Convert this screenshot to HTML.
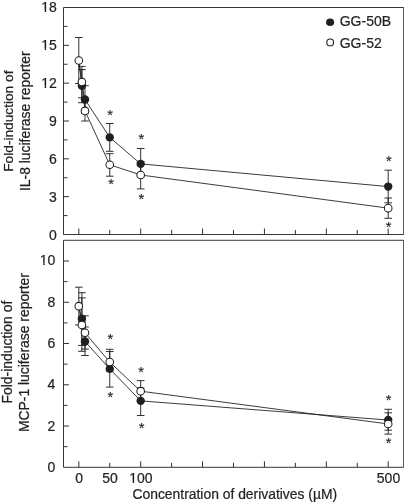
<!DOCTYPE html>
<html><head><meta charset="utf-8"><title>Chart</title>
<style>
html,body{margin:0;padding:0;background:#fff;overflow:hidden;}
svg{display:block;will-change:transform;position:absolute;left:0;top:0;font-family:"Liberation Sans",sans-serif;fill:#231f20;}
text{stroke:#231f20;stroke-width:0.22px;}
</style></head>
<body>
<svg width="404" height="503" viewBox="0 0 404 503">
<rect x="0" y="0" width="404" height="503" fill="#fff"/>
<path d="M63.5,7.5 H403.7 V234.5 H63.5 Z" fill="none" stroke="#231f20" stroke-width="0.9"/>
<path d="M63.5,240.3 H403.7 V467.3 H63.5 Z" fill="none" stroke="#231f20" stroke-width="0.9"/>
<line x1="63.50" y1="215.58" x2="67.50" y2="215.58" stroke="#231f20" stroke-width="0.92"/>
<line x1="63.50" y1="196.67" x2="69.00" y2="196.67" stroke="#231f20" stroke-width="0.92"/>
<line x1="63.50" y1="177.75" x2="67.50" y2="177.75" stroke="#231f20" stroke-width="0.92"/>
<line x1="63.50" y1="158.83" x2="69.00" y2="158.83" stroke="#231f20" stroke-width="0.92"/>
<line x1="63.50" y1="139.92" x2="67.50" y2="139.92" stroke="#231f20" stroke-width="0.92"/>
<line x1="63.50" y1="121.00" x2="69.00" y2="121.00" stroke="#231f20" stroke-width="0.92"/>
<line x1="63.50" y1="102.08" x2="67.50" y2="102.08" stroke="#231f20" stroke-width="0.92"/>
<line x1="63.50" y1="83.17" x2="69.00" y2="83.17" stroke="#231f20" stroke-width="0.92"/>
<line x1="63.50" y1="64.25" x2="67.50" y2="64.25" stroke="#231f20" stroke-width="0.92"/>
<line x1="63.50" y1="45.33" x2="69.00" y2="45.33" stroke="#231f20" stroke-width="0.92"/>
<line x1="63.50" y1="26.42" x2="67.50" y2="26.42" stroke="#231f20" stroke-width="0.92"/>
<text x="56.85" y="239.70" text-anchor="end" font-size="14" >0</text>
<text x="56.85" y="201.97" text-anchor="end" font-size="14" >3</text>
<text x="56.85" y="164.03" text-anchor="end" font-size="14" >6</text>
<text x="56.85" y="125.80" text-anchor="end" font-size="14" >9</text>
<text x="56.85" y="87.87" text-anchor="end" font-size="14" >12</text>
<rect x="41.14" y="85.67" width="3.52" height="3.85" fill="#fff"/>
<rect x="46.17" y="85.67" width="3.11" height="3.85" fill="#fff"/>
<text x="56.85" y="50.13" text-anchor="end" font-size="14" >15</text>
<rect x="41.14" y="47.94" width="3.52" height="3.85" fill="#fff"/>
<rect x="46.17" y="47.94" width="3.11" height="3.85" fill="#fff"/>
<text x="56.85" y="12.30" text-anchor="end" font-size="14" >18</text>
<rect x="41.14" y="10.10" width="3.52" height="3.85" fill="#fff"/>
<rect x="46.17" y="10.10" width="3.11" height="3.85" fill="#fff"/>
<line x1="63.50" y1="446.67" x2="67.50" y2="446.67" stroke="#231f20" stroke-width="0.92"/>
<line x1="63.50" y1="426.04" x2="69.00" y2="426.04" stroke="#231f20" stroke-width="0.92"/>
<line x1="63.50" y1="405.41" x2="67.50" y2="405.41" stroke="#231f20" stroke-width="0.92"/>
<line x1="63.50" y1="384.78" x2="69.00" y2="384.78" stroke="#231f20" stroke-width="0.92"/>
<line x1="63.50" y1="364.15" x2="67.50" y2="364.15" stroke="#231f20" stroke-width="0.92"/>
<line x1="63.50" y1="343.52" x2="69.00" y2="343.52" stroke="#231f20" stroke-width="0.92"/>
<line x1="63.50" y1="322.89" x2="67.50" y2="322.89" stroke="#231f20" stroke-width="0.92"/>
<line x1="63.50" y1="302.26" x2="69.00" y2="302.26" stroke="#231f20" stroke-width="0.92"/>
<line x1="63.50" y1="281.63" x2="67.50" y2="281.63" stroke="#231f20" stroke-width="0.92"/>
<line x1="63.50" y1="261.00" x2="69.00" y2="261.00" stroke="#231f20" stroke-width="0.92"/>
<text x="55.40" y="471.90" text-anchor="end" font-size="14" >0</text>
<text x="55.40" y="430.64" text-anchor="end" font-size="14" >2</text>
<text x="55.40" y="389.38" text-anchor="end" font-size="14" >4</text>
<text x="55.40" y="348.12" text-anchor="end" font-size="14" >6</text>
<text x="55.40" y="306.86" text-anchor="end" font-size="14" >8</text>
<text x="55.40" y="265.10" text-anchor="end" font-size="14" >10</text>
<rect x="39.69" y="262.90" width="3.52" height="3.85" fill="#fff"/>
<rect x="44.72" y="262.90" width="3.11" height="3.85" fill="#fff"/>
<line x1="78.80" y1="234.50" x2="78.80" y2="228.50" stroke="#231f20" stroke-width="0.92"/>
<line x1="78.80" y1="467.30" x2="78.80" y2="461.30" stroke="#231f20" stroke-width="0.92"/>
<line x1="109.74" y1="234.50" x2="109.74" y2="230.00" stroke="#231f20" stroke-width="0.92"/>
<line x1="109.74" y1="467.30" x2="109.74" y2="462.80" stroke="#231f20" stroke-width="0.92"/>
<line x1="140.68" y1="234.50" x2="140.68" y2="228.50" stroke="#231f20" stroke-width="0.92"/>
<line x1="140.68" y1="467.30" x2="140.68" y2="461.30" stroke="#231f20" stroke-width="0.92"/>
<line x1="171.62" y1="234.50" x2="171.62" y2="230.00" stroke="#231f20" stroke-width="0.92"/>
<line x1="171.62" y1="467.30" x2="171.62" y2="462.80" stroke="#231f20" stroke-width="0.92"/>
<line x1="202.56" y1="234.50" x2="202.56" y2="228.50" stroke="#231f20" stroke-width="0.92"/>
<line x1="202.56" y1="467.30" x2="202.56" y2="461.30" stroke="#231f20" stroke-width="0.92"/>
<line x1="233.50" y1="234.50" x2="233.50" y2="230.00" stroke="#231f20" stroke-width="0.92"/>
<line x1="233.50" y1="467.30" x2="233.50" y2="462.80" stroke="#231f20" stroke-width="0.92"/>
<line x1="264.44" y1="234.50" x2="264.44" y2="228.50" stroke="#231f20" stroke-width="0.92"/>
<line x1="264.44" y1="467.30" x2="264.44" y2="461.30" stroke="#231f20" stroke-width="0.92"/>
<line x1="295.38" y1="234.50" x2="295.38" y2="230.00" stroke="#231f20" stroke-width="0.92"/>
<line x1="295.38" y1="467.30" x2="295.38" y2="462.80" stroke="#231f20" stroke-width="0.92"/>
<line x1="326.32" y1="234.50" x2="326.32" y2="228.50" stroke="#231f20" stroke-width="0.92"/>
<line x1="326.32" y1="467.30" x2="326.32" y2="461.30" stroke="#231f20" stroke-width="0.92"/>
<line x1="357.26" y1="234.50" x2="357.26" y2="230.00" stroke="#231f20" stroke-width="0.92"/>
<line x1="357.26" y1="467.30" x2="357.26" y2="462.80" stroke="#231f20" stroke-width="0.92"/>
<line x1="388.20" y1="234.50" x2="388.20" y2="228.50" stroke="#231f20" stroke-width="0.92"/>
<line x1="388.20" y1="467.30" x2="388.20" y2="461.30" stroke="#231f20" stroke-width="0.92"/>
<text x="79.10" y="483.40" text-anchor="middle" font-size="14" >0</text>
<text x="110.04" y="483.40" text-anchor="middle" font-size="14" >50</text>
<text x="140.98" y="483.40" text-anchor="middle" font-size="14" >100</text>
<rect x="129.17" y="481.20" width="3.52" height="3.85" fill="#fff"/>
<rect x="134.19" y="481.20" width="3.11" height="3.85" fill="#fff"/>
<text x="388.50" y="483.40" text-anchor="middle" font-size="14" >500</text>
<text x="234.80" y="498.80" text-anchor="middle" font-size="13.88" >Concentration of derivatives (µM)</text>
<text transform="translate(12.8,121.15) rotate(-90)" text-anchor="middle" font-size="13.7">Fold-induction of</text>
<text transform="translate(29.6,121.15) rotate(-90)" text-anchor="middle" font-size="13.9">IL-8 luciferase reporter</text>
<text transform="translate(11.8,352.1) rotate(-90)" text-anchor="middle" font-size="13.9">Fold-induction of</text>
<text transform="translate(28.6,352.55) rotate(-90)" text-anchor="middle" font-size="13.9">MCP-1 luciferase reporter</text>
<line x1="78.80" y1="37.50" x2="78.80" y2="83.50" stroke="#231f20" stroke-width="0.92"/>
<line x1="75.00" y1="37.50" x2="82.60" y2="37.50" stroke="#231f20" stroke-width="0.92"/>
<line x1="75.00" y1="83.50" x2="82.60" y2="83.50" stroke="#231f20" stroke-width="0.92"/>
<line x1="81.89" y1="66.39" x2="81.89" y2="97.80" stroke="#231f20" stroke-width="0.92"/>
<line x1="78.09" y1="66.39" x2="85.69" y2="66.39" stroke="#231f20" stroke-width="0.92"/>
<line x1="78.09" y1="97.80" x2="85.69" y2="97.80" stroke="#231f20" stroke-width="0.92"/>
<line x1="81.89" y1="69.55" x2="81.89" y2="102.71" stroke="#231f20" stroke-width="0.92"/>
<line x1="78.09" y1="69.55" x2="85.69" y2="69.55" stroke="#231f20" stroke-width="0.92"/>
<line x1="78.09" y1="102.71" x2="85.69" y2="102.71" stroke="#231f20" stroke-width="0.92"/>
<line x1="84.99" y1="85.69" x2="84.99" y2="113.43" stroke="#231f20" stroke-width="0.92"/>
<line x1="81.19" y1="85.69" x2="88.79" y2="85.69" stroke="#231f20" stroke-width="0.92"/>
<line x1="81.19" y1="113.43" x2="88.79" y2="113.43" stroke="#231f20" stroke-width="0.92"/>
<line x1="84.99" y1="100.82" x2="84.99" y2="121.00" stroke="#231f20" stroke-width="0.92"/>
<line x1="81.19" y1="100.82" x2="88.79" y2="100.82" stroke="#231f20" stroke-width="0.92"/>
<line x1="81.19" y1="121.00" x2="88.79" y2="121.00" stroke="#231f20" stroke-width="0.92"/>
<line x1="109.74" y1="123.50" x2="109.74" y2="151.30" stroke="#231f20" stroke-width="0.92"/>
<line x1="105.94" y1="123.50" x2="113.54" y2="123.50" stroke="#231f20" stroke-width="0.92"/>
<line x1="105.94" y1="151.30" x2="113.54" y2="151.30" stroke="#231f20" stroke-width="0.92"/>
<line x1="109.74" y1="153.70" x2="109.74" y2="176.20" stroke="#231f20" stroke-width="0.92"/>
<line x1="105.94" y1="153.70" x2="113.54" y2="153.70" stroke="#231f20" stroke-width="0.92"/>
<line x1="105.94" y1="176.20" x2="113.54" y2="176.20" stroke="#231f20" stroke-width="0.92"/>
<line x1="140.68" y1="148.50" x2="140.68" y2="177.00" stroke="#231f20" stroke-width="0.92"/>
<line x1="136.88" y1="148.50" x2="144.48" y2="148.50" stroke="#231f20" stroke-width="0.92"/>
<line x1="136.88" y1="177.00" x2="144.48" y2="177.00" stroke="#231f20" stroke-width="0.92"/>
<line x1="140.68" y1="161.60" x2="140.68" y2="188.90" stroke="#231f20" stroke-width="0.92"/>
<line x1="136.88" y1="161.60" x2="144.48" y2="161.60" stroke="#231f20" stroke-width="0.92"/>
<line x1="136.88" y1="188.90" x2="144.48" y2="188.90" stroke="#231f20" stroke-width="0.92"/>
<line x1="388.20" y1="170.20" x2="388.20" y2="202.80" stroke="#231f20" stroke-width="0.92"/>
<line x1="384.40" y1="170.20" x2="392.00" y2="170.20" stroke="#231f20" stroke-width="0.92"/>
<line x1="384.40" y1="202.80" x2="392.00" y2="202.80" stroke="#231f20" stroke-width="0.92"/>
<line x1="388.20" y1="198.00" x2="388.20" y2="218.30" stroke="#231f20" stroke-width="0.92"/>
<line x1="384.40" y1="198.00" x2="392.00" y2="198.00" stroke="#231f20" stroke-width="0.92"/>
<line x1="384.40" y1="218.30" x2="392.00" y2="218.30" stroke="#231f20" stroke-width="0.92"/>
<polyline points="78.80,60.47 81.89,85.69 84.99,99.56 109.74,137.39 140.68,163.88 388.20,186.58" fill="none" stroke="#231f20" stroke-width="0.88"/>
<polyline points="78.80,60.47 81.89,81.91 84.99,110.91 109.74,164.76 140.68,174.98 388.20,208.14" fill="none" stroke="#231f20" stroke-width="0.88"/>
<circle cx="81.89" cy="85.69" r="4.2" fill="#231f20"/>
<circle cx="84.99" cy="99.56" r="4.2" fill="#231f20"/>
<circle cx="109.74" cy="137.39" r="4.2" fill="#231f20"/>
<circle cx="140.68" cy="163.88" r="4.2" fill="#231f20"/>
<circle cx="388.20" cy="186.58" r="4.2" fill="#231f20"/>
<circle cx="78.80" cy="60.47" r="3.8" fill="#fff" stroke="#231f20" stroke-width="1.05"/>
<circle cx="81.89" cy="81.91" r="3.8" fill="#fff" stroke="#231f20" stroke-width="1.05"/>
<circle cx="84.99" cy="110.91" r="3.8" fill="#fff" stroke="#231f20" stroke-width="1.05"/>
<circle cx="109.74" cy="164.76" r="3.8" fill="#fff" stroke="#231f20" stroke-width="1.05"/>
<circle cx="140.68" cy="174.98" r="3.8" fill="#fff" stroke="#231f20" stroke-width="1.05"/>
<circle cx="388.20" cy="208.14" r="3.8" fill="#fff" stroke="#231f20" stroke-width="1.05"/>
<text x="110.00" y="120.13" text-anchor="middle" font-size="14.6" style="stroke-width:0.14px">*</text>
<text x="111.00" y="189.43" text-anchor="middle" font-size="14.6" style="stroke-width:0.14px">*</text>
<text x="141.40" y="144.43" text-anchor="middle" font-size="14.6" style="stroke-width:0.14px">*</text>
<text x="141.40" y="204.23" text-anchor="middle" font-size="14.6" style="stroke-width:0.14px">*</text>
<text x="388.80" y="165.53" text-anchor="middle" font-size="14.6" style="stroke-width:0.14px">*</text>
<text x="388.50" y="231.63" text-anchor="middle" font-size="14.6" style="stroke-width:0.14px">*</text>
<line x1="78.80" y1="287.20" x2="78.80" y2="324.95" stroke="#231f20" stroke-width="0.92"/>
<line x1="75.00" y1="287.20" x2="82.60" y2="287.20" stroke="#231f20" stroke-width="0.92"/>
<line x1="75.00" y1="324.95" x2="82.60" y2="324.95" stroke="#231f20" stroke-width="0.92"/>
<line x1="81.89" y1="292.70" x2="81.89" y2="345.40" stroke="#231f20" stroke-width="0.92"/>
<line x1="78.09" y1="292.70" x2="85.69" y2="292.70" stroke="#231f20" stroke-width="0.92"/>
<line x1="78.09" y1="345.40" x2="85.69" y2="345.40" stroke="#231f20" stroke-width="0.92"/>
<line x1="81.89" y1="297.90" x2="81.89" y2="351.30" stroke="#231f20" stroke-width="0.92"/>
<line x1="78.09" y1="297.90" x2="85.69" y2="297.90" stroke="#231f20" stroke-width="0.92"/>
<line x1="78.09" y1="351.30" x2="85.69" y2="351.30" stroke="#231f20" stroke-width="0.92"/>
<line x1="84.99" y1="315.80" x2="84.99" y2="349.10" stroke="#231f20" stroke-width="0.92"/>
<line x1="81.19" y1="315.80" x2="88.79" y2="315.80" stroke="#231f20" stroke-width="0.92"/>
<line x1="81.19" y1="349.10" x2="88.79" y2="349.10" stroke="#231f20" stroke-width="0.92"/>
<line x1="84.99" y1="327.00" x2="84.99" y2="355.50" stroke="#231f20" stroke-width="0.92"/>
<line x1="81.19" y1="327.00" x2="88.79" y2="327.00" stroke="#231f20" stroke-width="0.92"/>
<line x1="81.19" y1="355.50" x2="88.79" y2="355.50" stroke="#231f20" stroke-width="0.92"/>
<line x1="109.74" y1="349.30" x2="109.74" y2="371.00" stroke="#231f20" stroke-width="0.92"/>
<line x1="105.94" y1="349.30" x2="113.54" y2="349.30" stroke="#231f20" stroke-width="0.92"/>
<line x1="105.94" y1="371.00" x2="113.54" y2="371.00" stroke="#231f20" stroke-width="0.92"/>
<line x1="109.74" y1="351.50" x2="109.74" y2="387.10" stroke="#231f20" stroke-width="0.92"/>
<line x1="105.94" y1="351.50" x2="113.54" y2="351.50" stroke="#231f20" stroke-width="0.92"/>
<line x1="105.94" y1="387.10" x2="113.54" y2="387.10" stroke="#231f20" stroke-width="0.92"/>
<line x1="140.68" y1="380.60" x2="140.68" y2="401.00" stroke="#231f20" stroke-width="0.92"/>
<line x1="136.88" y1="380.60" x2="144.48" y2="380.60" stroke="#231f20" stroke-width="0.92"/>
<line x1="136.88" y1="401.00" x2="144.48" y2="401.00" stroke="#231f20" stroke-width="0.92"/>
<line x1="140.68" y1="388.00" x2="140.68" y2="415.50" stroke="#231f20" stroke-width="0.92"/>
<line x1="136.88" y1="388.00" x2="144.48" y2="388.00" stroke="#231f20" stroke-width="0.92"/>
<line x1="136.88" y1="415.50" x2="144.48" y2="415.50" stroke="#231f20" stroke-width="0.92"/>
<line x1="388.20" y1="409.30" x2="388.20" y2="430.20" stroke="#231f20" stroke-width="0.92"/>
<line x1="384.40" y1="409.30" x2="392.00" y2="409.30" stroke="#231f20" stroke-width="0.92"/>
<line x1="384.40" y1="430.20" x2="392.00" y2="430.20" stroke="#231f20" stroke-width="0.92"/>
<line x1="388.20" y1="412.80" x2="388.20" y2="434.10" stroke="#231f20" stroke-width="0.92"/>
<line x1="384.40" y1="412.80" x2="392.00" y2="412.80" stroke="#231f20" stroke-width="0.92"/>
<line x1="384.40" y1="434.10" x2="392.00" y2="434.10" stroke="#231f20" stroke-width="0.92"/>
<polyline points="78.80,306.18 81.89,318.76 84.99,341.46 109.74,368.89 140.68,400.87 388.20,420.06" fill="none" stroke="#231f20" stroke-width="0.88"/>
<polyline points="78.80,306.18 81.89,324.95 84.99,332.79 109.74,362.09 140.68,391.18 388.20,423.98" fill="none" stroke="#231f20" stroke-width="0.88"/>
<circle cx="81.89" cy="318.76" r="4.2" fill="#231f20"/>
<circle cx="84.99" cy="341.46" r="4.2" fill="#231f20"/>
<circle cx="109.74" cy="368.89" r="4.2" fill="#231f20"/>
<circle cx="140.68" cy="400.87" r="4.2" fill="#231f20"/>
<circle cx="388.20" cy="420.06" r="4.2" fill="#231f20"/>
<circle cx="78.80" cy="306.18" r="3.8" fill="#fff" stroke="#231f20" stroke-width="1.05"/>
<circle cx="81.89" cy="324.95" r="3.8" fill="#fff" stroke="#231f20" stroke-width="1.05"/>
<circle cx="84.99" cy="332.79" r="3.8" fill="#fff" stroke="#231f20" stroke-width="1.05"/>
<circle cx="109.74" cy="362.09" r="3.8" fill="#fff" stroke="#231f20" stroke-width="1.05"/>
<circle cx="140.68" cy="391.18" r="3.8" fill="#fff" stroke="#231f20" stroke-width="1.05"/>
<circle cx="388.20" cy="423.98" r="3.8" fill="#fff" stroke="#231f20" stroke-width="1.05"/>
<text x="110.40" y="344.23" text-anchor="middle" font-size="14.6" style="stroke-width:0.14px">*</text>
<text x="110.40" y="402.23" text-anchor="middle" font-size="14.6" style="stroke-width:0.14px">*</text>
<text x="141.10" y="377.23" text-anchor="middle" font-size="14.6" style="stroke-width:0.14px">*</text>
<text x="141.70" y="433.03" text-anchor="middle" font-size="14.6" style="stroke-width:0.14px">*</text>
<text x="388.70" y="404.93" text-anchor="middle" font-size="14.6" style="stroke-width:0.14px">*</text>
<text x="388.70" y="447.73" text-anchor="middle" font-size="14.6" style="stroke-width:0.14px">*</text>
<ellipse cx="330.1" cy="22.2" rx="4.05" ry="3.8" fill="#231f20"/>
<circle cx="330.2" cy="42.4" r="3.4" fill="#fff" stroke="#231f20" stroke-width="1.1"/>
<text x="339.70" y="26.30" text-anchor="start" font-size="14" >GG-50B</text>
<text x="339.70" y="47.80" text-anchor="start" font-size="14" >GG-52</text>
</svg>
</body></html>
